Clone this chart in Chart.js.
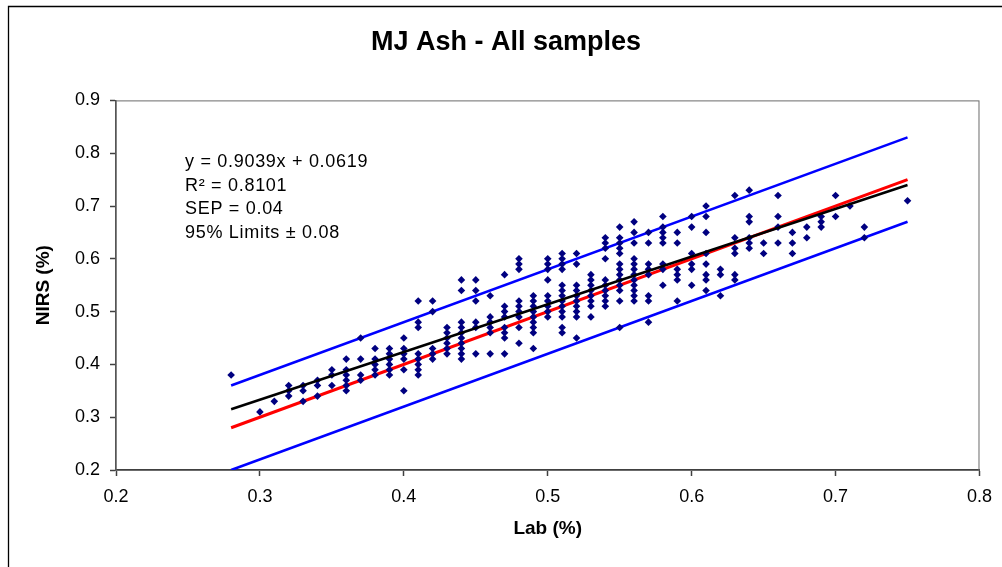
<!DOCTYPE html>
<html>
<head>
<meta charset="utf-8">
<title>MJ Ash - All samples</title>
<script src="https://cdn.jsdelivr.net/npm/chart.js@4.4.1/dist/chart.umd.min.js"></script>
<style>
  html, body { margin: 0; padding: 0; background: #fff; }
  #wrap { width: 1002px; height: 567px; position: relative; }
</style>
</head>
<body>
<div id="wrap"><canvas id="ashChart"></canvas></div>
<script>
// Lab values (x columns) and the NIRS readings found at each of them
const labColumns = [
  0.28, 0.30, 0.31, 0.32, 0.33, 0.34, 0.35, 0.36, 0.37, 0.38, 0.39,
  0.40, 0.41, 0.42, 0.43, 0.44, 0.45, 0.46, 0.47, 0.48, 0.49,
  0.50, 0.51, 0.52, 0.53, 0.54, 0.55, 0.56, 0.57, 0.58, 0.59,
  0.60, 0.61, 0.62, 0.63, 0.64, 0.65, 0.66, 0.67, 0.68, 0.69,
  0.70, 0.71, 0.72, 0.75
];
const nirsByColumn = [
  [0.38], [0.31], [0.33], [0.36, 0.35, 0.34], [0.36, 0.35, 0.33],
  [0.37, 0.36, 0.34], [0.39, 0.38, 0.36], [0.41, 0.39, 0.38, 0.37, 0.36, 0.35],
  [0.45, 0.41, 0.38, 0.37], [0.43, 0.41, 0.40, 0.39, 0.38],
  [0.43, 0.42, 0.41, 0.40, 0.39, 0.38],
  [0.45, 0.43, 0.42, 0.41, 0.39, 0.35],
  [0.52, 0.48, 0.47, 0.42, 0.41, 0.40, 0.39, 0.38],
  [0.52, 0.50, 0.43, 0.42, 0.41],
  [0.47, 0.46, 0.45, 0.44, 0.43, 0.42],
  [0.56, 0.54, 0.48, 0.47, 0.46, 0.45, 0.44, 0.43, 0.42, 0.41],
  [0.56, 0.54, 0.52, 0.48, 0.47, 0.42],
  [0.53, 0.49, 0.48, 0.47, 0.46, 0.42],
  [0.57, 0.51, 0.50, 0.49, 0.47, 0.46, 0.45, 0.42],
  [0.60, 0.59, 0.58, 0.52, 0.51, 0.50, 0.49, 0.47, 0.44],
  [0.53, 0.52, 0.51, 0.50, 0.49, 0.48, 0.47, 0.46, 0.43],
  [0.60, 0.59, 0.58, 0.56, 0.53, 0.52, 0.51, 0.50, 0.49],
  [0.61, 0.60, 0.59, 0.58, 0.55, 0.54, 0.53, 0.52, 0.51, 0.50, 0.49, 0.47, 0.46],
  [0.61, 0.59, 0.55, 0.54, 0.53, 0.52, 0.51, 0.50, 0.49, 0.45],
  [0.57, 0.56, 0.55, 0.54, 0.53, 0.52, 0.51, 0.49],
  [0.64, 0.63, 0.62, 0.60, 0.56, 0.55, 0.54, 0.53, 0.52, 0.51],
  [0.66, 0.64, 0.63, 0.62, 0.61, 0.59, 0.58, 0.57, 0.56, 0.55, 0.54, 0.52, 0.47],
  [0.67, 0.65, 0.63, 0.60, 0.59, 0.58, 0.57, 0.56, 0.55, 0.54, 0.53, 0.52],
  [0.65, 0.63, 0.59, 0.58, 0.57, 0.53, 0.52, 0.48],
  [0.68, 0.66, 0.65, 0.64, 0.63, 0.59, 0.58, 0.55],
  [0.65, 0.63, 0.58, 0.57, 0.56, 0.52],
  [0.68, 0.66, 0.61, 0.59, 0.58, 0.55],
  [0.70, 0.68, 0.65, 0.61, 0.59, 0.57, 0.56, 0.54],
  [0.58, 0.57, 0.53],
  [0.72, 0.64, 0.62, 0.61, 0.57, 0.56],
  [0.73, 0.68, 0.67, 0.64, 0.63, 0.62],
  [0.63, 0.61],
  [0.72, 0.68, 0.66, 0.63],
  [0.65, 0.63, 0.61],
  [0.66, 0.64],
  [0.68, 0.67, 0.66],
  [0.72, 0.68],
  [0.70],
  [0.66, 0.64],
  [0.71]
];

// regression and limit lines
const lineRange = [0.28, 0.75];
const fitSlope = 0.9039;
const fitIntercept = 0.0619;
const limit95 = 0.08;

const xTicks = { min: 0.2, max: 0.8, step: 0.1 };
const yTicks = { min: 0.2, max: 0.9, step: 0.1 };

const statLines = ['y = 0.9039x + 0.0619', 'R\u00B2 = 0.8101', 'SEP = 0.04', '95% Limits \u00B1 0.08'];

const FONT = '"Liberation Sans", Arial, sans-serif';

const samplePoints = labColumns.flatMap((x, i) => nirsByColumn[i].map(y => ({ x: x, y: y })));
const linePoints = fn => lineRange.map(x => ({ x: x, y: fn(x) }));

const framePlugin = {
  id: 'frame',
  afterDraw(chart) {
    const { ctx, chartArea } = chart;
    ctx.save();
    // plot area box
    ctx.strokeStyle = '#6b6b6b';
    ctx.lineWidth = 1;
    ctx.strokeRect(chartArea.left, chartArea.top + 0.5, chartArea.right - chartArea.left - 0.5, chartArea.bottom - chartArea.top);
    // outer chart border (cut at right / bottom)
    ctx.strokeStyle = '#000';
    ctx.lineWidth = 1.3;
    ctx.beginPath();
    ctx.moveTo(8.5, chart.height + 5);
    ctx.lineTo(8.5, 6.5);
    ctx.lineTo(chart.width + 5, 6.5);
    ctx.stroke();
    ctx.restore();
  }
};

const statsPlugin = {
  id: 'stats',
  afterDatasetsDraw(chart) {
    const { ctx, chartArea } = chart;
    ctx.save();
    ctx.letterSpacing = '0.7px';
    ctx.font = '18px ' + FONT;
    ctx.fillStyle = '#000';
    ctx.textAlign = 'left';
    ctx.textBaseline = 'alphabetic';
    statLines.forEach((line, i) => {
      ctx.fillText(line, chartArea.left + 69, chartArea.top + 67 + i * 23.4);
    });
    ctx.restore();
  }
};

const ctx = document.getElementById('ashChart').getContext('2d');
new Chart(ctx, {
  type: 'scatter',
  data: {
    datasets: [
      {
        label: 'Fit',
        type: 'line',
        data: linePoints(x => fitSlope * x + fitIntercept),
        borderColor: '#000000',
        borderWidth: 2.5,
        pointRadius: 0,
        fill: false,
        order: 0
      },
      {
        label: 'Samples',
        data: samplePoints,
        pointStyle: 'rectRot',
        pointRadius: 3.8,
        backgroundColor: '#000080',
        borderColor: '#000080',
        borderWidth: 0,
        order: 1
      },
      {
        label: 'Target',
        type: 'line',
        data: linePoints(x => x),
        borderColor: '#FF0000',
        borderWidth: 3,
        pointRadius: 0,
        fill: false,
        order: 2
      },
      {
        label: 'Upper',
        type: 'line',
        data: linePoints(x => x + limit95),
        borderColor: '#0000FF',
        borderWidth: 2.6,
        pointRadius: 0,
        fill: false,
        order: 3
      },
      {
        label: 'Lower',
        type: 'line',
        data: linePoints(x => x - limit95),
        borderColor: '#0000FF',
        borderWidth: 2.6,
        pointRadius: 0,
        fill: false,
        order: 3
      }
    ]
  },
  options: {
    responsive: true,
    maintainAspectRatio: false,
    animation: false,
    layout: { padding: { left: 30, right: 20, top: 0, bottom: 23 } },
    plugins: {
      legend: { display: false },
      tooltip: { enabled: false },
      title: {
        display: true,
        text: 'MJ Ash - All samples',
        color: '#000',
        font: { family: FONT, size: 27, weight: 'bold' },
        padding: { top: 26, bottom: 42 }
      }
    },
    scales: {
      x: {
        type: 'linear',
        min: xTicks.min,
        max: xTicks.max,
        afterFit: scale => { scale.height = 74; },
        ticks: {
          stepSize: xTicks.step,
          color: '#000',
          font: { family: FONT, size: 18 },
          padding: 10,
          callback: v => +v.toFixed(1)
        },
        grid: { drawOnChartArea: false, tickLength: 6, tickColor: '#404040', tickWidth: 1.5 },
        border: { color: '#404040', width: 2 },
        title: {
          display: true,
          text: 'Lab (%)',
          color: '#000',
          font: { family: FONT, size: 19, weight: 'bold' },
          padding: { top: 0, bottom: 4 }
        }
      },
      y: {
        type: 'linear',
        min: yTicks.min,
        max: yTicks.max,
        afterFit: scale => { scale.width = 86; },
        ticks: {
          stepSize: yTicks.step,
          color: '#000',
          font: { family: FONT, size: 18 },
          padding: 10,
          callback: v => +v.toFixed(1)
        },
        grid: { drawOnChartArea: false, tickLength: 6, tickColor: '#404040', tickWidth: 1.5 },
        border: { color: '#404040', width: 1.5 },
        title: {
          display: true,
          text: 'NIRS (%)',
          color: '#000',
          font: { family: FONT, size: 19, weight: 'bold' },
          padding: { top: 2, bottom: 0 }
        }
      }
    }
  },
  plugins: [framePlugin, statsPlugin]
});
</script>
</body>
</html>
